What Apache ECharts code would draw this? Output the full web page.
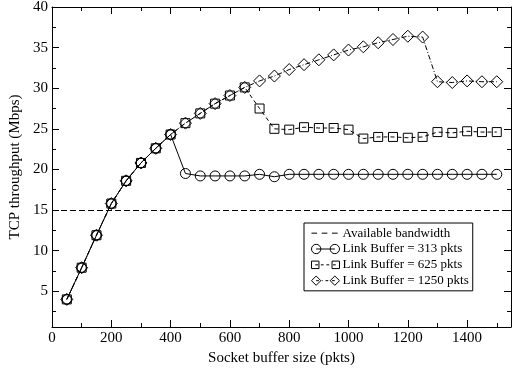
<!DOCTYPE html>
<html><head><meta charset="utf-8">
<script src="https://cdn.jsdelivr.net/npm/echarts@6/dist/echarts.min.js"></script>
<style>html,body{margin:0;padding:0;background:#fff}#c{width:516px;height:368px}</style>
</head><body><div id="c"></div>
<script>
const socketSizes = [50,100,150,200,250,300,350,400,450,500,550,600,650,700,750,800,850,900,950,1000,1050,1100,1150,1200,1250,1300,1350,1400,1450,1500];
const link313  = [4.0,7.9,11.9,15.8,18.6,20.8,22.6,24.3,19.5,19.2,19.2,19.2,19.2,19.4,19.1,19.4,19.4,19.4,19.4,19.4,19.4,19.4,19.4,19.4,19.4,19.4,19.4,19.4,19.4,19.4];
const link625  = [4.0,7.9,11.9,15.8,18.6,20.8,22.6,24.3,25.7,26.9,28.1,29.1,30.1,27.5,25.0,24.9,25.2,25.1,25.1,24.9,23.8,24.0,24.0,23.9,24.0,24.6,24.5,24.7,24.6,24.6];
const link1250 = [4.0,7.9,11.9,15.8,18.6,20.8,22.6,24.3,25.7,26.9,28.1,29.1,30.1,30.9,31.5,32.3,32.9,33.5,34.1,34.7,35.1,35.6,36.0,36.4,36.3,30.8,30.7,30.9,30.8,30.8];
const availableBandwidth = 15;
const seriesNames = ['Available bandwidth','Link Buffer = 313 pkts','Link Buffer = 625 pkts','Link Buffer = 1250 pkts'];
const xMajorTicks = [0,200,400,600,800,1000,1200,1400];
const xMinorTicks = [100,300,500,700,900,1100,1300,1500];
const yMajorTicks = [5,10,15,20,25,30,35,40];
const yMinorTicks = [2.5,7.5,12.5,17.5,22.5,27.5,32.5,37.5];
const xRange = [0,1548];
const yRange = [0.6,40];

const font = 'Liberation Serif';
const black = '#000';

function xAx(pos, ticks, len, labels, line) {
  const a = {
    type:'value', position:pos, min:xRange[0], max:xRange[1],
    axisLine:{show:line, onZero:false, lineStyle:{color:black,width:1}},
    axisTick:{show:true, inside:true, length:len, customValues:ticks, lineStyle:{color:black,width:1}},
    axisLabel:{show:labels, customValues:ticks, formatter:v=>String(v), color:black, fontFamily:font, fontSize:15, margin:4},
    splitLine:{show:false}, minorTick:{show:false}
  };
  if (labels) {
    a.name = 'Socket buffer size (pkts)';
    a.nameLocation = 'middle'; a.nameGap = 21;
    a.nameTextStyle = {color:black, fontFamily:font, fontSize:15};
  }
  return a;
}
function yAx(pos, ticks, len, labels, line) {
  const a = {
    type:'value', position:pos, min:yRange[0], max:yRange[1],
    axisLine:{show:line, onZero:false, lineStyle:{color:black,width:1}},
    axisTick:{show:true, inside:true, length:len, customValues:ticks, lineStyle:{color:black,width:1}},
    axisLabel:{show:labels, customValues:ticks, formatter:v=>String(v), color:black, fontFamily:font, fontSize:15, margin:4},
    splitLine:{show:false}, minorTick:{show:false}
  };
  if (labels) {
    a.name = 'TCP throughput (Mbps)';
    a.nameLocation = 'middle'; a.nameGap = 20;
    a.nameTextStyle = {color:black, fontFamily:font, fontSize:15};
  }
  return a;
}

const pts = arr => socketSizes.map((x,i)=>[x, arr[i]]);
const hollow = {color:'rgba(0,0,0,0)', borderColor:black, borderWidth:1};
const legendStyle = {color:'none', borderColor:black, borderWidth:1};

const chart = echarts.init(document.getElementById('c'), null, {renderer:'canvas'});
chart.setOption({
  animation:false,
  backgroundColor:'#fff',
  grid:{left:52, right:5, top:7, bottom:41, outerBoundsMode:'none'},
  xAxis:[ xAx('bottom', xMajorTicks, 7, true, true), xAx('bottom', xMinorTicks, 4, false, false),
          xAx('top', xMajorTicks, 7, false, true), xAx('top', xMinorTicks, 4, false, false) ],
  yAxis:[ yAx('left', yMajorTicks, 7, true, true), yAx('left', yMinorTicks, 4, false, false),
          yAx('right', yMajorTicks, 7, false, true), yAx('right', yMinorTicks, 4, false, false) ],
  legend:{
    orient:'vertical', left:304, top:223, padding:[3,4,3,5], itemGap:1.5, itemWidth:28, itemHeight:10,
    borderColor:black, borderWidth:1, borderRadius:0, backgroundColor:'#fff', selectedMode:false,
    textStyle:{fontFamily:font, fontSize:13, lineHeight:14, color:black, padding:[0,0,0,-2]},
    data:[
      {name:seriesNames[0], icon:'path://M0,0 M30,10 M0,5 L6,5 M11,5 L17,5 M22,5 L28,5', itemStyle:legendStyle},
      {name:seriesNames[1], icon:'path://M5,0 A5,5 0 1,1 5,10 A5,5 0 1,1 5,0 Z M5,5 L25,5 M25,0 A5,5 0 1,1 25,10 A5,5 0 1,1 25,0 Z', itemStyle:legendStyle},
      {name:seriesNames[2], icon:'path://M0,0 M30,10 M0,1 L8,1 L8,9 L0,9 Z M22,1 L30,1 L30,9 L22,9 Z M4,5 L7,5 M10,5 L13,5 M16,5 L19,5 M23,5 L26,5', itemStyle:legendStyle},
      {name:seriesNames[3], icon:'path://M0,5 L5,0 L10,5 L5,10 Z M20,5 L25,0 L30,5 L25,10 Z M5,5 L8,5 M11,5 L12,5 M15,5 L18,5 M22,5 L25,5', itemStyle:legendStyle}
    ]
  },
  series:[
    {name:seriesNames[0], type:'line', data:[], symbol:'none', lineStyle:{color:black,type:[6,3],width:1}, itemStyle:{color:black},
     markLine:{silent:true, symbol:['none','none'], label:{show:false}, lineStyle:{color:black,type:[6,3],width:1}, emphasis:{disabled:true},
       data:[{yAxis:availableBandwidth}]}},
    {name:seriesNames[1], type:'line', data:pts(link313), symbol:'circle', symbolSize:10, itemStyle:hollow,
     lineStyle:{color:black,width:1,type:'solid'}, emphasis:{disabled:true}},
    {name:seriesNames[2], type:'line', data:pts(link625), symbol:'rect', symbolSize:9, itemStyle:hollow,
     lineStyle:{color:black,width:1,type:[4,3]}, emphasis:{disabled:true}},
    {name:seriesNames[3], type:'line', data:pts(link1250), symbol:'diamond', symbolSize:12, itemStyle:hollow,
     lineStyle:{color:black,width:1,type:[5,2,1,2]}, emphasis:{disabled:true}}
  ]
});
</script></body></html>
